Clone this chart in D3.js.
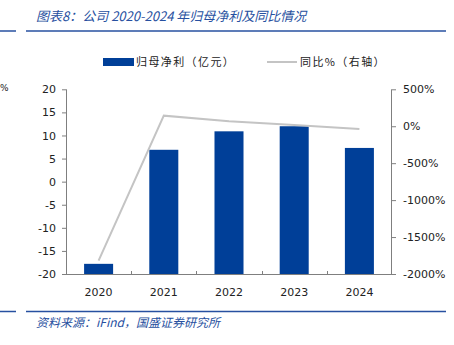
<!DOCTYPE html>
<html><head><meta charset="utf-8">
<script src="https://cdn.jsdelivr.net/npm/d3@7"></script>
<style>
body{margin:0;background:#fff;}
svg{display:block;}
text{font-family:"DejaVu Sans",Verdana,sans-serif;}
.cjk{font-family:"Noto Sans CJK SC","DejaVu Sans",sans-serif;}
</style></head>
<body>
<script>
const years = ["2020","2021","2022","2023","2024"];
const profit = [-17.8, 6.9, 10.9, 12.0, 7.3];
const yoy = [-1820, 143, 68, 18, -36];
const leftTicks = [-20,-15,-10,-5,0,5,10,15,20];
const rightTicks = [-2000,-1500,-1000,-500,0,500];
const titleText = "图表8：公司 2020-2024 年归母净利及同比情况";
const sourceText = "资料来源：iFind，国盛证券研究所";
const legendBar = "归母净利（亿元）";
const legendLine = "同比%（右轴）";

const W=454,H=345;
const svg=d3.select("body").append("svg").attr("width",W).attr("height",H);
const blue="#2750a0", barColor="#003f98", lineColor="#c4c4c4", axisColor="#7f7f7f";
const m={l:66,r:392,t:89.3,b:274};

// header
svg.append("text").attr("class","cjk").attr("x",36).attr("y",21)
  .attr("font-size",13).attr("font-style","italic").attr("fill",blue).text(titleText);
svg.append("line").attr("x1",0).attr("x2",16).attr("y1",31).attr("y2",31).attr("stroke",blue).attr("stroke-width",1.5);
svg.append("line").attr("x1",26).attr("x2",446).attr("y1",31).attr("y2",31).attr("stroke",blue).attr("stroke-width",1.5);
// footer
svg.append("line").attr("x1",0).attr("x2",16).attr("y1",311.5).attr("y2",311.5).attr("stroke",blue).attr("stroke-width",1.5);
svg.append("line").attr("x1",26).attr("x2",446).attr("y1",311.5).attr("y2",311.5).attr("stroke",blue).attr("stroke-width",1.5);
svg.append("text").attr("class","cjk").attr("x",36).attr("y",327)
  .attr("font-size",12).attr("font-style","italic").attr("fill",blue).text(sourceText);
// stray % at left edge
svg.append("text").attr("x",0).attr("y",91).attr("font-size",9).attr("fill","#222").text("%");

const x=d3.scaleBand().domain(years).range([m.l,m.r]).paddingInner(0.555).paddingOuter(0.2775);
const xStep=d3.scaleBand().domain(years).range([m.l,m.r]);
const yL=d3.scaleLinear().domain([-20,20]).range([m.b,m.t]);
const yR=d3.scaleLinear().domain([-2000,500]).range([m.b,m.t]);

// bars
svg.append("g").selectAll("rect").data(profit).join("rect")
  .attr("x",(d,i)=>x(years[i])).attr("width",x.bandwidth())
  .attr("y",d=>yL(d)).attr("height",d=>yL(-20)-yL(d)).attr("fill",barColor);

// line
const line=d3.line().x((d,i)=>xStep(years[i])+xStep.bandwidth()/2).y(d=>yR(d));
svg.append("path").datum(yoy).attr("d",line).attr("fill","none").attr("stroke",lineColor).attr("stroke-width",2);

// axes
const fs=11;
const hy=s=>String(s).replace("\u2212","-");
const gL=svg.append("g").attr("transform",`translate(${m.l},0)`)
  .call(d3.axisLeft(yL).tickValues(leftTicks).tickSize(4).tickPadding(6).tickFormat(d=>hy(d)));
const gR=svg.append("g").attr("transform",`translate(${m.r},0)`)
  .call(d3.axisRight(yR).tickValues(rightTicks).tickSize(4).tickPadding(7).tickFormat(d=>hy(d)+"%"));
[gL,gR].forEach(g=>{g.select(".domain").remove();
  g.selectAll("line").attr("stroke",axisColor);
  g.selectAll("text").attr("font-size",fs).attr("fill","#222").attr("font-family","DejaVu Sans, Verdana, sans-serif");});
svg.append("line").attr("x1",m.l+0.5).attr("x2",m.l+0.5).attr("y1",m.t).attr("y2",m.b).attr("stroke",axisColor);
svg.append("line").attr("x1",m.r-0.5).attr("x2",m.r-0.5).attr("y1",m.t).attr("y2",m.b).attr("stroke",axisColor);

// x axis
const gX=svg.append("g").attr("transform",`translate(0,${m.b})`);
gX.append("line").attr("x1",m.l).attr("x2",m.r).attr("y1",0.5).attr("y2",0.5).attr("stroke",axisColor);
gX.selectAll("line.tk").data(years.slice(1)).join("line").attr("class","tk")
  .attr("x1",d=>Math.round(xStep(d))+0.5).attr("x2",d=>Math.round(xStep(d))+0.5).attr("y1",0).attr("y2",-3).attr("stroke",axisColor);
gX.selectAll("text").data(years).join("text")
  .attr("x",d=>x(d)+x.bandwidth()/2).attr("y",22).attr("text-anchor","middle")
  .attr("font-size",fs).attr("fill","#222").text(d=>d);

// legend
svg.append("rect").attr("x",103).attr("y",58).attr("width",31).attr("height",8).attr("fill",barColor);
svg.append("text").attr("class","cjk").attr("x",136).attr("y",66).attr("font-size",11)
  .attr("letter-spacing",1.4).attr("fill","#222").text(legendBar);
svg.append("line").attr("x1",267).attr("x2",297).attr("y1",62).attr("y2",62).attr("stroke",lineColor).attr("stroke-width",2);
svg.append("text").attr("class","cjk").attr("x",300).attr("y",66).attr("font-size",11)
  .attr("letter-spacing",1.4).attr("fill","#222").text(legendLine);
</script>
</body></html>
